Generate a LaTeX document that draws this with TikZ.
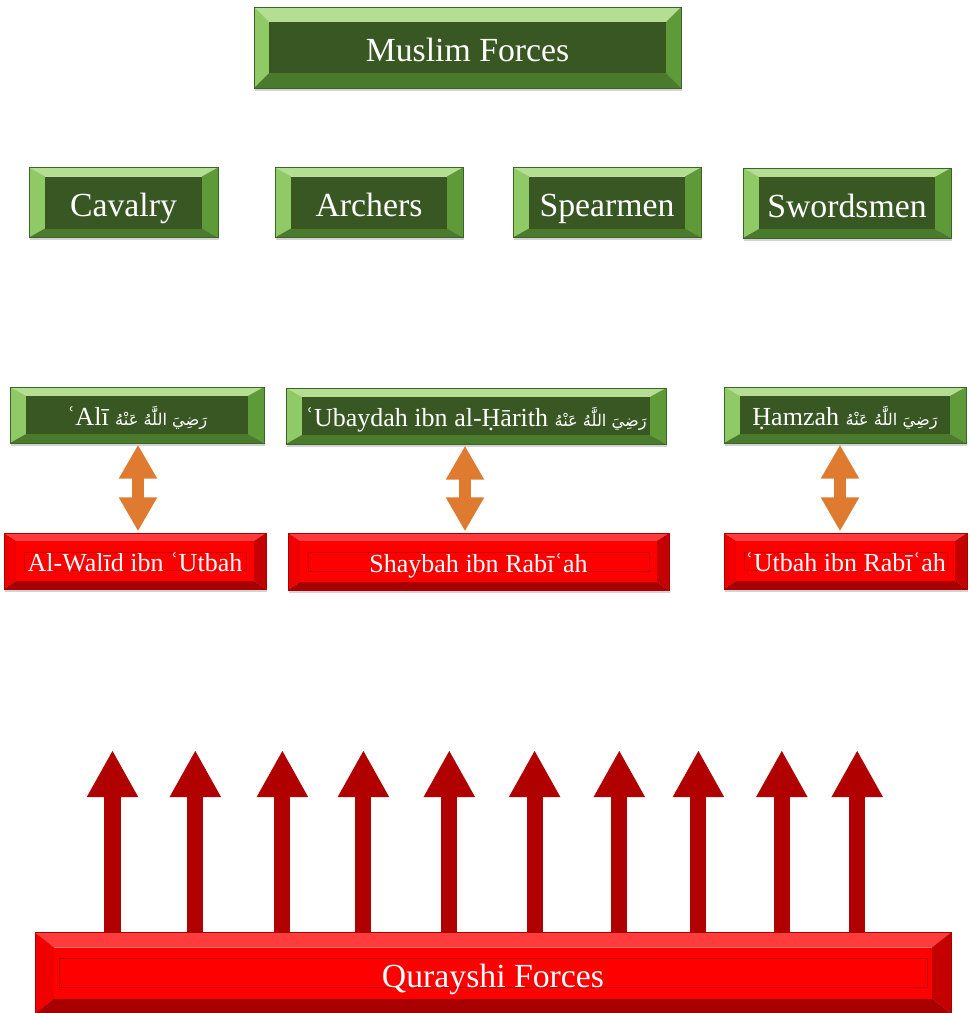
\documentclass[tikz,border=0pt]{standalone}
\usepackage{fontspec}
\setmainfont{Liberation Serif}
\newfontfamily\arabicfont[Script=Arabic]{DejaVu Sans}
\TeXXeTstate=1
\usetikzlibrary{arrows.meta,shadows,calc}

\newlength\pix
\setlength\pix{0.025cm}
\newcommand\radi{{\arabicfont\fontsize{11.5}{14}\selectfont\beginR رَضِيَ اللَّٰهُ عَنْهُ\endR}}

\definecolor{gface}{HTML}{385723}
\definecolor{gtop}{HTML}{B4DE92}
\definecolor{gleft}{HTML}{8FCA67}
\definecolor{gright}{HTML}{5F9A39}
\definecolor{gbottom}{HTML}{4A7A2B}
\definecolor{gline}{HTML}{3C6428}
\definecolor{rface}{HTML}{FF0000}
\definecolor{rtop}{HTML}{FF3B3B}
\definecolor{rleft}{HTML}{F00000}
\definecolor{rright}{HTML}{C40000}
\definecolor{rbottom}{HTML}{A80000}
\definecolor{rline}{HTML}{C80000}
\definecolor{fightcol}{HTML}{DE7B30}
\definecolor{chargecol}{HTML}{B00000}

\tikzset{
  bevel x/.store in=\bvx, bevel y/.store in=\bvy,
  frame x/.store in=\frx, frame y/.store in=\fry,
  bevel x=16, bevel y=9, frame x=20, frame y=19,
  frame line/.style={draw=none},
  bevelled/.style n args={5}{
    path picture={
      \coordinate (bnw) at (path picture bounding box.north west);
      \coordinate (bne) at (path picture bounding box.north east);
      \coordinate (bsw) at (path picture bounding box.south west);
      \coordinate (bse) at (path picture bounding box.south east);
      \coordinate (inw) at ([xshift=\bvx\pix,yshift=-\bvy\pix]bnw);
      \coordinate (ine) at ([xshift=-\bvx\pix,yshift=-\bvy\pix]bne);
      \coordinate (isw) at ([xshift=\bvx\pix,yshift=\bvy\pix]bsw);
      \coordinate (ise) at ([xshift=-\bvx\pix,yshift=\bvy\pix]bse);
      \fill[#1] (bnw) -- (bne) -- (ine) -- (inw) -- cycle;
      \fill[#2] (bnw) -- (inw) -- (isw) -- (bsw) -- cycle;
      \fill[#3] (bne) -- (ine) -- (ise) -- (bse) -- cycle;
      \fill[#4] (bsw) -- (isw) -- (ise) -- (bse) -- cycle;
      \fill[#5] (inw) rectangle (ise);
      \path[frame line] ([xshift=\frx\pix,yshift=-\fry\pix]bnw) rectangle ([xshift=-\frx\pix,yshift=\fry\pix]bse);
    }},
  greenbox/.style={rectangle, inner sep=0pt, draw=gline, line width=0.4pt,
    text=white, drop shadow={opacity=0.35, shadow xshift=1pt, shadow yshift=-2pt},
    bevelled={gtop}{gleft}{gright}{gbottom}{gface}},
  redbox/.style={rectangle, inner sep=0pt, draw=rbottom, line width=0.4pt,
    text=white, drop shadow={opacity=0.35, shadow xshift=1pt, shadow yshift=-2pt},
    frame line/.style={draw=rline, line width=0.5pt},
    bevelled={rtop}{rleft}{rright}{rbottom}{rface}},
  fight/.style={draw=fightcol, line width=0.28cm,
    {Triangle[width=0.9cm,length=0.85cm]}-{Triangle[width=0.9cm,length=0.85cm]},
    shorten <=1pt, shorten >=1pt},
  charge/.style={draw=chargecol, line width=0.4cm,
    -{Triangle[width=1.2cm,length=1.18cm]}},
  bigtext/.style={font=\fontsize{24}{28}\selectfont, text height=20pt, text depth=0pt},
  greenname/.style={font=\fontsize{18.5}{22}\selectfont, text height=15.2pt, text depth=0pt},
  redname/.style={font=\fontsize{18.5}{22}\selectfont, text height=15.6pt, text depth=0pt},
}

\begin{document}
\begin{tikzpicture}[x=0.025cm, y=-0.025cm]
\useasboundingbox (0,0) rectangle (969,1013);

% Muslim side
\node[greenbox, bigtext, bevel x=15, bevel y=15, minimum width=427\pix, minimum height=81\pix]
  (muslim) at (467.5,47.5) {Muslim Forces};

\node[greenbox, bigtext, minimum width=189\pix, minimum height=70\pix] (cavalry)   at (123.5,202.5) {Cavalry};
\node[greenbox, bigtext, minimum width=188\pix, minimum height=70\pix] (archers)   at (369,202.5)   {Archers};
\node[greenbox, bigtext, minimum width=188\pix, minimum height=70\pix] (spearmen)  at (607,202.5)   {Spearmen};
\node[greenbox, bigtext, minimum width=208\pix, minimum height=70\pix] (swordsmen) at (847,203)     {Swordsmen};

\node[greenbox, greenname, minimum width=254\pix, minimum height=56\pix] (ali)     at (137,415) {ʿAlī \radi};
\node[greenbox, greenname, minimum width=380\pix, minimum height=56\pix] (ubaydah) at (476,416) {ʿUbaydah ibn al-Ḥārith \radi};
\node[greenbox, greenname, minimum width=242\pix, minimum height=56\pix] (hamzah)  at (845,415) {Ḥamzah \radi};

% Quraysh side
\node[redbox, redname, bevel x=12, bevel y=8, minimum width=262\pix, minimum height=56\pix] (walid)   at (135,561)   {Al-Walīd ibn ʿUtbah};
\node[redbox, redname, bevel x=12, bevel y=8, minimum width=381\pix, minimum height=57\pix] (shaybah) at (478.5,561.5) {Shaybah ibn Rabīʿah};
\node[redbox, redname, bevel x=12, bevel y=8, minimum width=243\pix, minimum height=56\pix] (utbah)   at (845.5,561) {ʿUtbah ibn Rabīʿah};

\node[redbox, bigtext, bevel x=19, bevel y=15, frame x=24, frame y=26, minimum width=916\pix, minimum height=81\pix]
  (quraysh) at (493,973) {Qurayshi Forces};

% duels
\draw[fight] ($(ali.south)+(1,0)$)      -- ($(ali.south |- walid.north)+(1,0)$);
\draw[fight] ($(ubaydah.south)+(-11,0)$) -- ($(ubaydah.south |- shaybah.north)+(-11,0)$);
\draw[fight] ($(hamzah.south)+(-5,0)$)  -- ($(hamzah.south |- utbah.north)+(-5,0)$);

% Quraysh advance
\foreach \ax [count=\i] in {112.5,195.3,282.4,363.4,449.3,534.6,619.3,698.4,781.8,857.2} {
  \coordinate (tip\i) at (\ax,750);
  \draw[charge] (tip\i |- quraysh.north) -- (tip\i);
}
\end{tikzpicture}
\end{document}
